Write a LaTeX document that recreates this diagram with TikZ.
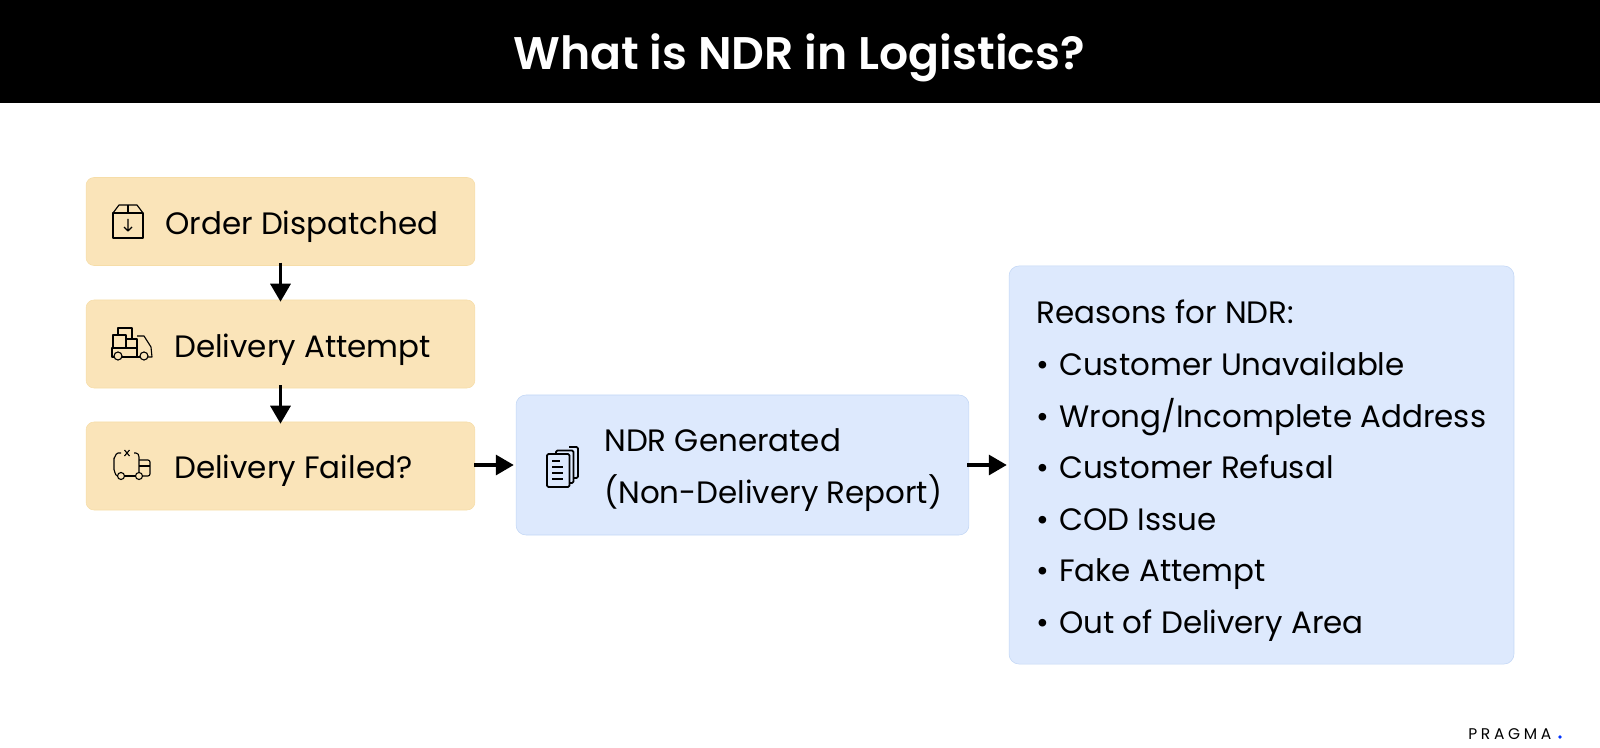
\documentclass[tikz,border=0pt]{standalone}
\usepackage{fontspec}
\setmainfont{Poppins}
\newfontfamily\titlefont{Poppins SemiBold}
\usetikzlibrary{arrows.meta}
\definecolor{boxorange}{HTML}{FAE4B9}
\definecolor{edgeorange}{HTML}{F6DDA8}
\definecolor{boxblue}{HTML}{DDE9FD}
\definecolor{edgeblue}{HTML}{C3D7F5}
\newcommand{\myarrow}{Triangle[width=5mm,length=4.5mm]}
\newcommand{\pxsize}[1]{\fontsize{#1}{#1}\selectfont}
\tikzset{
  orangebox/.style={draw=edgeorange, fill=boxorange, rounded corners=2mm, line width=0.4pt, minimum width=9.72cm, minimum height=2.2cm, inner sep=0pt},
  bluebox/.style={draw=edgeblue, fill=boxblue, rounded corners=2.5mm, line width=0.4pt, inner sep=0pt},
  boxtext/.style={anchor=base west, font=\pxsize{22}, inner sep=0pt},
  flow/.style={-\myarrow, line width=2.4pt},
  icon/.style={line width=0.8pt, line join=round}
}
\begin{document}
\begin{tikzpicture}[x=0.025cm, y=-0.025cm]
  % General frame is (0,0) to (1600, 748), y runs down
  \useasboundingbox (0,0) rectangle (1600,748);

  % header
  \fill[black] (0,0) rectangle (1600,103);
  \node (title) at (799,58) [text=white, font=\pxsize{32.5}\titlefont] {What is NDR in Logistics?};

  % boxes
  \node (dispatch) at (280.5,221.5) [orangebox] {};
  \node (attempt) at (280.5,344) [orangebox] {};
  \node (failed) at (280.5,466) [orangebox] {};
  \node (ndr) at (742.5,465) [bluebox, minimum width=11.32cm, minimum height=3.5cm] {};
  \node (reasons) at (1261.5,465) [bluebox, minimum width=12.62cm, minimum height=9.95cm] {};

  % labels
  \node (dispatchtext) at (165,235) [boxtext] {Order Dispatched};
  \node (attempttext) at (174,357) [boxtext] {Delivery Attempt};
  \node (failedtext) at (174,478) [boxtext] {Delivery Failed?};
  \node (ndrtext) at (604,451) [boxtext] {NDR Generated};
  \node (reporttext) at (604,503) [boxtext] {(Non-Delivery Report)};
  \node (reasonstext) at (1036,323.5) [boxtext] {Reasons for NDR:};
  \foreach \y/\item in {375.5/Customer Unavailable, 427/{Wrong/Incomplete Address}, 478.5/Customer Refusal,
                        530.5/COD Issue, 581.5/Fake Attempt, 633/Out of Delivery Area}{
    \node at (1036,\y) [boxtext] {\textbullet};
    \node at (1059,\y) [boxtext] {\item};
  }

  % arrows
  \draw[flow, shorten <=-0.08cm, shorten >=-0.05cm] (dispatch) -- (attempt);
  \draw[flow, shorten <=-0.08cm, shorten >=-0.05cm] (attempt) -- (failed);
  \draw[flow, shorten <=-0.02cm, shorten >=0.05cm] (failed.east |- ndr.west) -- (ndr.west);
  \draw[flow, shorten <=-0.05cm, shorten >=0.05cm] (ndr.east) -- (ndr.east -| reasons.west);

  % order icon
  \draw[icon] (113,213) rectangle (143,238);
  \draw[icon] (113,213) -- (119,205) -- (137,205) -- (143,213);
  \draw[icon] (128,205) -- (128,213);
  \draw[icon] (128,219) -- (128,231) (124,227) -- (128,231) -- (132,227);

  % truck icon
  \draw[icon] (114,357) -- (112,357) -- (112,348) -- (137,348);
  \draw[icon] (113,348) -- (113,335) -- (126,335) -- (126,348);
  \draw[icon] (118,335) -- (118,328) -- (132,328) -- (132,339);
  \draw[icon] (126,339) -- (137,339) -- (137,357);
  \draw[icon] (137,336) -- (144,336) -- (151,347) -- (152,357) -- (148,357);
  \draw[icon] (122,357) -- (140,357);
  \draw[icon] (118,356) circle (4) (144,356) circle (4);

  % failed truck icon
  \draw[icon] (121,453) -- (118,453) to[out=180, in=-90] (114,458) -- (114,470) to[out=90, in=180] (117.5,476);
  \draw[icon] (124.5,476) -- (135.5,476);
  \draw[icon] (134,453) -- (136,453) to[out=0, in=90] (139,457) -- (139,472.5);
  \draw[icon, rounded corners=1.5pt] (139,460) -- (150,460) -- (150,476) -- (142.5,476);
  \draw[icon] (139,466) -- (150,466);
  \draw[icon] (124.5,450) -- (129.5,456) (124.5,456) -- (129.5,450);
  \draw[icon] (121,476) circle (3.5) (139,476) circle (3.5);

  % report icon
  \draw[icon, line width=1.2pt, rounded corners=1pt] (569,447) -- (578,447) -- (578,478) -- (573.5,478);
  \draw[icon, line width=1.2pt, rounded corners=1pt] (556,454) -- (556,450.5) -- (573.5,450.5) -- (573.5,483) -- (569.5,483);
  \draw[icon, line width=1.2pt, rounded corners=1pt] (547,454) rectangle (569.5,487);
  \draw[icon, line width=1.2pt] (552,461) -- (560,461) (552,467) -- (563,467) (552,473) -- (563,473) (552,479) -- (563,479);

  % logo
  \node (logo) at (1468,739) [anchor=base west, inner sep=0pt, font=\pxsize{11}\addfontfeature{LetterSpace=24}] {PRAGMA};
  \fill[blue!80!cyan] (1560,737) circle (1.8);
\end{tikzpicture}
\end{document}
